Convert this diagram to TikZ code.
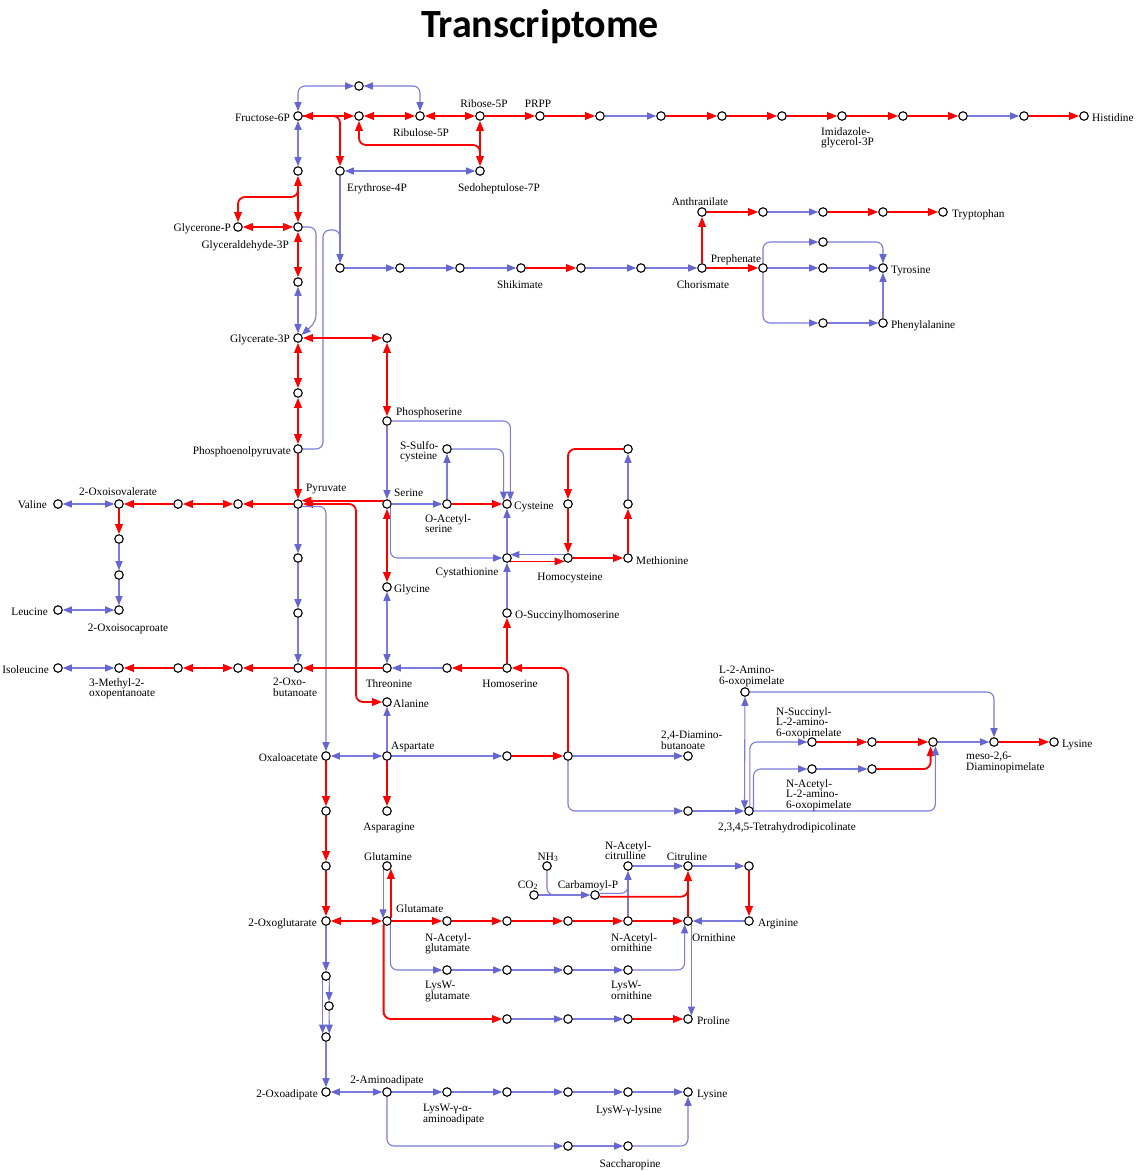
\documentclass[tikz,border=0pt]{standalone}
\usepackage{fontspec}
\setmainfont{Liberation Serif}
\newfontfamily\titlefam{Carlito}
\usetikzlibrary{arrows.meta,backgrounds}
\definecolor{rd}{RGB}{255,0,0}
\definecolor{bll}{RGB}{124,124,222}
\definecolor{bla}{RGB}{102,102,210}
\newcommand\labfont{\fontsize{11.3}{10.6}\selectfont}
\begin{document}
\begin{tikzpicture}[x=1pt,y=-1pt,
  mbox/.style={circle,draw=black,fill=white,line width=1.1pt,minimum size=8.5pt,inner sep=0pt},
  lab/.style={font=\labfont,inner sep=0pt,align=left},
  rl/.style={draw=rd,line width=1.8pt,rounded corners=7pt},
  bl/.style={draw=bll,line width=1.1pt,rounded corners=7pt},
  rt/.tip={Triangle[length=10pt,width=7.5pt,color=rd]},
  bt/.tip={Triangle[length=9pt,width=7pt,color=bla]}]
\useasboundingbox (0,0) rectangle (1139,1171);
\node[font=\titlefam\bfseries\fontsize{40}{48}\selectfont,anchor=base,inner sep=0pt] (title) at (540,37) {Transcriptome};
% metabolites
\foreach \n/\x/\y in {f6p/298/116, t1/359/86, n1/359/116, ru5p/420/116, r5p/480/116, prpp/540/116, h1/600/116, h2/661/116, h3/722/116, h4/782/116, igp/842/116, h5/903/116, h6/963/116, h7/1024/116, his/1084/116,
a1/298/171, e4p/340/171, s7p/480/171, gnp/238/227, g3p/298/227, a2/298/282,
s1/340/268, s2/400/268, s3/460/268, shik/521/268, s4/581/268, s5/641/268, chor/702/268, preph/763/268, ty1/823/268, tyr/883/268,
anth/702/212, tr1/763/212, tr2/823/212, tr3/883/212, trp/943/212, ty0/823/242, ph1/823/323, phe/883/323,
gla/298/338, ps0/387/338, a3/298/393, pser/387/421, pep/298/449, ssc/447/449, m1/628/449,
val/58/504, oiv/119/504, v1/178/504, v2/238/504, pyr/298/504, ser/387/504, oas/447/504, cys/507/504, m2/568/504, m3/628/504,
l1/119/539, l2/119/575, leu/58/610, oic/119/610, p1/298/558, p2/298/613,
cysta/507/558, hcy/568/558, metn/628/558, gly/387/587, osh/507/613,
ile/58/668, mop/119/668, i1/178/668, i2/238/668, obu/298/668, thr/387/668, t2/447/668, hse/507/668, ala/387/702,
aop/745/692, nsu/812/742, k1/872/742, k2/933/742, dap/994/742, lysa/1054/742,
oaa/326/756, asp/387/756, d1/507/756, d2/568/756, dab/688/756, nac/812/769, k3/872/769,
asn/387/811, c1/326/811, d3/688/811, thdp/749/811,
c2/326/866, gln/387/866, nh3/547/866, nacit/628/866, cit/688/866, r1/749/866, co2/534/895, cbp/595/895,
akg/326/921, glu/387/921, nag/447/921, o1/507/921, o2/568/921, nao/628/921, orn/688/921, arg/749/921,
lwg/447/970, w1/507/970, w2/568/970, lwo/628/970,
x1/326/976, x2/329/1006, x3/326/1037,
pr1/507/1019, pr2/568/1019, pr3/628/1019, pro/688/1019,
oad/326/1092, aad/387/1092, y1/447/1092, y2/507/1092, y3/568/1092, lwl/628/1092, lysb/688/1092,
sa1/568/1146, sac/628/1146}
  \node[mbox] (\n) at (\x,\y) {};
\coordinate (j1) at (480,156);
\coordinate (j2) at (298,186);
\coordinate (j3) at (340,246);
\coordinate (alak) at (356,702);
\coordinate (j4) at (562,895);
\coordinate (j5) at (628,880);
\coordinate (j6) at (688,884);
\begin{scope}[on background layer]
\fill[white] (0,0) rectangle (1139,1171);
% pentose phosphate / glycolysis
\draw[rl,rt-rt] (f6p) -- (n1);
\draw[rl,-rt] (f6p) -| (e4p);
\draw[rl,rt-rt] (n1) -- (ru5p);
\draw[rl,rt-rt] (ru5p) -- (r5p);
\draw[rl,-rt] (r5p) -- (prpp);
\draw[rl,rt-rt] (r5p) -- (s7p);
\draw[rl,rt-] (n1) -- (359,145) -| (j1);
\draw[bl,bt-bt] (f6p) |- (t1);
\draw[bl,bt-bt] (t1) -| (ru5p);
\draw[bl,bt-bt] (f6p) -- (a1);
\draw[rl,rt-rt] (a1) -- (g3p);
\draw[rl,-rt] (j2) -- (298,197) -| (gnp);
\draw[rl,rt-rt] (gnp) -- (g3p);
\draw[bl,bt-bt] (e4p) -- (s7p);
\draw[rl,rt-rt] (g3p) -- (a2);
\draw[bl,bt-bt] (a2) -- (gla);
\draw[bl,-bt] (g3p) -| (316,322) -- (gla.40);
\draw[bl,-bt] (e4p) -- (s1);
\draw[bl] (pep) -| (323,230) -| (j3);
\draw[rl,rt-rt] (gla) -- (a3);
\draw[rl,rt-rt] (a3) -- (pep);
\draw[rl,rt-rt] (gla) -- (ps0);
\draw[rl,rt-rt] (ps0) -- (pser);
\draw[rl,-rt] (pep) -- (pyr);
% shikimate, aromatic
\foreach \a/\b in {s1/s2,s2/s3,s3/shik,s4/s5,s5/chor,tr1/tr2,preph/ty1,ty1/tyr,ph1/phe,phe/tyr,h1/h2,h6/h7}
  \draw[bl,-bt] (\a) -- (\b);
\foreach \a/\b in {shik/s4,chor/anth,chor/preph,anth/tr1,tr2/tr3,tr3/trp,prpp/h1,h2/h3,h3/h4,h4/igp,igp/h5,h5/h6,h7/his}
  \draw[rl,-rt] (\a) -- (\b);
\draw[bl,-bt] (preph) |- (ty0);
\draw[bl,-bt] (ty0) -| (tyr);
\draw[bl,-bt] (preph) |- (ph1);
% serine, cysteine, methionine
\draw[bl,-bt] (pser) -- (ser);
\draw[bl,-bt] (pser) -| (cys.45);
\draw[bl,-bt] (ssc) -| (cys.135);
\draw[bl,-bt] (oas) -- (ssc);
\draw[bl,-bt] (ser) -- (oas);
\draw[rl,-rt] (oas) -- (cys);
\draw[rl,-rt] (ser.135) -- (pyr.45);
\draw[rl,rt-rt] (pyr) -| (alak) -- (ala);
\draw[bl,-bt] (pyr.-30) -| (oaa);
\draw[rl,rt-rt] (ser) -- (gly);
\draw[bl,-bt] (ser.-45) |- (cysta);
\draw[bl,-bt] (cysta) -- (cys);
\draw[bl,-bt] (hcy.135) -- (cysta.45);
\draw[rl,-rt] (cysta.-45) -- (hcy.-135);
\draw[rl,-rt] (hcy) -- (metn);
\draw[rl,-rt] (metn) -- (m3);
\draw[bl,-bt] (m3) -- (m1);
\draw[rl,-rt] (m1) -| (m2);
\draw[rl,-rt] (m2) -- (hcy);
\draw[bl,-bt] (osh) -- (cysta);
\draw[rl,-rt] (hse) -- (osh);
\draw[rl,-rt] (hse) -- (t2);
\draw[bl,-bt] (t2) -- (thr);
\draw[rl,-rt] (thr) -- (obu);
\draw[bl,bt-bt] (gly) -- (thr);
% branched chain
\foreach \a/\b in {pyr/p1,p1/p2,p2/obu,l1/l2,l2/oic}
  \draw[bl,-bt] (\a) -- (\b);
\draw[rl,-rt] (pyr) -- (v2);
\draw[rl,rt-rt] (v2) -- (v1);
\draw[rl,-rt] (v1) -- (oiv);
\draw[bl,bt-bt] (oiv) -- (val);
\draw[rl,-rt] (oiv) -- (l1);
\draw[bl,bt-bt] (leu) -- (oic);
\draw[rl,-rt] (obu) -- (i2);
\draw[rl,rt-rt] (i2) -- (i1);
\draw[rl,-rt] (i1) -- (mop);
\draw[bl,bt-bt] (mop) -- (ile);
% aspartate, lysine (DAP)
\draw[bl,-bt] (asp) -- (ala);
\draw[bl,bt-bt] (oaa) -- (asp);
\draw[rl,-rt] (asp) -- (asn);
\draw[bl,-bt] (asp) -- (d1);
\draw[rl,-rt] (d1) -- (d2);
\draw[rl,-rt] (d2) |- (hse);
\draw[bl,-bt] (d2) -- (dab);
\draw[bl,-bt] (d2) |- (d3);
\draw[bl,-bt] (d3) -- (thdp);
\draw[bl,bt-bt] (aop) -- (thdp.160);
\draw[bl,-bt] (aop) -| (dap);
\draw[bl,-bt] (thdp.80) |- (nsu);
\draw[bl,-bt] (thdp.20) |- (nac);
\draw[rl,-rt] (nsu) -- (k1);
\draw[rl,-rt] (k1) -- (k2);
\draw[bl,-bt] (k2) -- (dap);
\draw[rl,-rt] (dap) -- (lysa);
\draw[bl,-bt] (nac) -- (k3);
\draw[rl,-rt] (k3) -| (k2.-120);
\draw[bl,-bt] (thdp) -| (k2.-60);
% TCA, glutamate family
\foreach \a/\b in {oaa/c1,c1/c2,c2/akg,glu/nag,nag/o1,o1/o2,o2/nao,nao/orn,r1/arg,orn/cit,pr3/pro}
  \draw[rl,-rt] (\a) -- (\b);
\draw[rl,rt-rt] (akg) -- (glu);
\draw[bl,-bt] (gln.215) -- (glu.145);
\draw[rl,-rt] (glu.35) -- (gln.-35);
\foreach \a/\b in {nao/nacit,nacit/cit,cit/r1,arg/orn,co2/cbp,lwg/w1,w1/w2,w2/lwo,pr1/pr2,pr2/pr3,akg/x1,x3/oad,aad/y1,y1/y2,y2/y3,y3/lwl,lwl/lysb,sa1/sac}
  \draw[bl,-bt] (\a) -- (\b);
\draw[bl] (nh3) |- (j4);
\draw[bl] (cbp.20) -| (j5);
\draw[rl] (cbp.-20) -| (j6);
\draw[bl,-bt] (glu.-45) |- (lwg);
\draw[bl,-bt] (lwo) -| (orn.225);
\draw[bl,-bt] (orn.-45) -- (pro.45);
\draw[rl,-rt] (glu.225) |- (pr1);
\draw[bl,-bt] (x1.225) -- (x3.135);
\draw[bl,-bt] (x1.-45) -- (x2);
\draw[bl,-bt] (x2) -- (x3.45);
\draw[bl,bt-bt] (oad) -- (aad);
\draw[bl,-bt] (aad) |- (sa1);
\draw[bl,-bt] (sac) -| (lysb);
\end{scope}
% labels right
\node[lab,anchor=base west] (lHis) at (1092,121) {Histidine};
\node[lab,anchor=base west] (lTrp) at (952,217) {Tryptophan};
\node[lab,anchor=base west] (lTyr) at (891,273) {Tyrosine};
\node[lab,anchor=base west] (lPhe) at (891,328) {Phenylalanine};
\node[lab,anchor=base west] (lCys) at (514,509) {Cysteine};
\node[lab,anchor=base west] (lMet) at (636,564) {Methionine};
\node[lab,anchor=base west] (lGly) at (394,592) {Glycine};
\node[lab,anchor=base west] (lOsh) at (515,618) {O-Succinylhomoserine};
\node[lab,anchor=base west] (lAla) at (393,707) {Alanine};
\node[lab,anchor=base west] (lLysA) at (1062,747) {Lysine};
\node[lab,anchor=base west] (lArg) at (758,926) {Arginine};
\node[lab,anchor=base west] (lPro) at (697,1024) {Proline};
\node[lab,anchor=base west] (lLysB) at (697,1097) {Lysine};
\node[lab,anchor=base west] (lE4p) at (347,191) {Erythrose-4P};
\node[lab,anchor=base west] (lPser) at (396,415) {Phosphoserine};
\node[lab,anchor=base west] (lSer) at (394,496) {Serine};
\node[lab,anchor=base west] (lPyr) at (306,491) {Pyruvate};
\node[lab,anchor=base west] (lAsp) at (391,749) {Aspartate};
\node[lab,anchor=base west] (lGlu) at (396,912) {Glutamate};
\node[lab,anchor=base west] (lOrn) at (692,941) {Ornithine};
% labels left
\node[lab,anchor=base east] (lF6p) at (290,121) {Fructose-6P};
\node[lab,anchor=base east] (lGnp) at (231,231) {Glycerone-P};
\node[lab,anchor=base east] (lG3p) at (289,248) {Glyceraldehyde-3P};
\node[lab,anchor=base east] (lGla) at (290,342) {Glycerate-3P};
\node[lab,anchor=base east] (lPep) at (291,454) {Phosphoenolpyruvate};
\node[lab,anchor=base east] (lVal) at (47,508) {Valine};
\node[lab,anchor=base east] (lLeu) at (48,615) {Leucine};
\node[lab,anchor=base east] (lIle) at (49,673) {Isoleucine};
\node[lab,anchor=base east] (lOaa) at (318,761) {Oxaloacetate};
\node[lab,anchor=base east] (lAkg) at (317,926) {2-Oxoglutarate};
\node[lab,anchor=base east] (lOad) at (318,1097) {2-Oxoadipate};
% labels centred
\node[lab,anchor=base] (lRu5p) at (421,136) {Ribulose-5P};
\node[lab,anchor=base] (lR5p) at (484,107) {Ribose-5P};
\node[lab,anchor=base] (lPrpp) at (538,107) {PRPP};
\node[lab,anchor=base] (lS7p) at (499,191) {Sedoheptulose-7P};
\node[lab,anchor=base] (lShik) at (520,288) {Shikimate};
\node[lab,anchor=base] (lChor) at (703,288) {Chorismate};
\node[lab,anchor=base] (lAnth) at (700,205) {Anthranilate};
\node[lab,anchor=base] (lPreph) at (736,262) {Prephenate};
\node[lab,anchor=base] (lOiv) at (118,495) {2-Oxoisovalerate};
\node[lab,anchor=base] (lOic) at (128,631) {2-Oxoisocaproate};
\node[lab,anchor=base] (lCysta) at (467,575) {Cystathionine};
\node[lab,anchor=base] (lHcy) at (570,580) {Homocysteine};
\node[lab,anchor=base] (lHse) at (510,687) {Homoserine};
\node[lab,anchor=base] (lThr) at (389,687) {Threonine};
\node[lab,anchor=base] (lAsn) at (389,830) {Asparagine};
\node[lab,anchor=base] (lThdp) at (787,830) {2,3,4,5-Tetrahydrodipicolinate};
\node[lab,anchor=base] (lGln) at (388,860) {Glutamine};
\node[lab,anchor=base] (lNh3) at (548,860) {NH\textsubscript{3}};
\node[lab,anchor=base] (lCo2) at (528,888) {CO\textsubscript{2}};
\node[lab,anchor=base] (lCbp) at (588,888) {Carbamoyl-P};
\node[lab,anchor=base] (lCit) at (687,860) {Citruline};
\node[lab,anchor=base] (lAad) at (387,1083) {2-Aminoadipate};
\node[lab,anchor=base] (lLwl) at (629,1113) {LysW-γ-lysine};
\node[lab,anchor=base] (lSac) at (630,1167) {Saccharopine};
% labels multi-line
\node[lab,anchor=north west] (lIgp) at (821,127) {Imidazole-\\glycerol-3P};
\node[lab,anchor=north west] (lSsc) at (400,441) {S-Sulfo-\\cysteine};
\node[lab,anchor=north west] (lOas) at (425,514) {O-Acetyl-\\serine};
\node[lab,anchor=north west] (lMop) at (89,678) {3-Methyl-2-\\oxopentanoate};
\node[lab,anchor=north west] (lObu) at (273,678) {2-Oxo-\\butanoate};
\node[lab,anchor=north west] (lDab) at (661,731) {2,4-Diamino-\\butanoate};
\node[lab,anchor=north west] (lAop) at (719,666) {L-2-Amino-\\6-oxopimelate};
\node[lab,anchor=north west] (lNsu) at (776,707) {N-Succinyl-\\L-2-amino-\\6-oxopimelate};
\node[lab,anchor=north west] (lNac) at (786,779) {N-Acetyl-\\L-2-amino-\\6-oxopimelate};
\node[lab,anchor=north west] (lDap) at (966,752) {meso-2,6-\\Diaminopimelate};
\node[lab,anchor=north west] (lNacit) at (605,841) {N-Acetyl-\\citrulline};
\node[lab,anchor=north west] (lNag) at (425,933) {N-Acetyl-\\glutamate};
\node[lab,anchor=north west] (lNao) at (611,933) {N-Acetyl-\\ornithine};
\node[lab,anchor=north west] (lLwg) at (425,981) {LysW-\\glutamate};
\node[lab,anchor=north west] (lLwo) at (611,981) {LysW-\\ornithine};
\node[lab,anchor=north west] (lLwa) at (423,1104) {LysW-γ-α-\\aminoadipate};
\end{tikzpicture}
\end{document}
